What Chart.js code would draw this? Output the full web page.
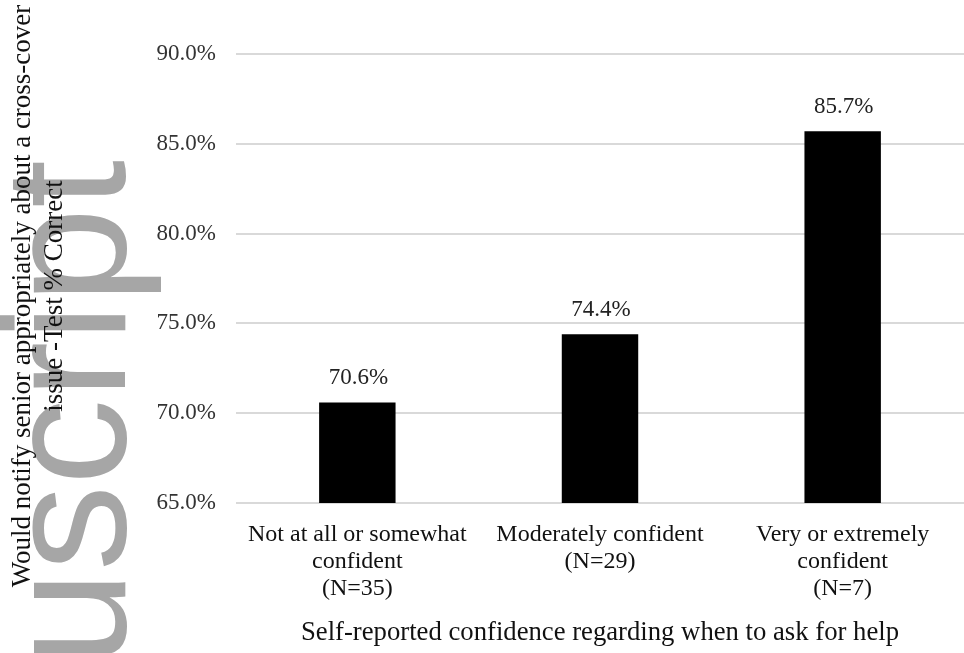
<!DOCTYPE html>
<html>
<head>
<meta charset="utf-8">
<script src="https://cdn.jsdelivr.net/npm/chart.js@4"></script>
<style>
  html, body { margin: 0; padding: 0; background: #fff; overflow: hidden; }
  canvas { display: block; }
</style>
</head>
<body>
<canvas id="confChart" width="964" height="653"></canvas>
<script>
const categories = [
  ['Not at all or somewhat', 'confident', '(N=35)'],
  ['Moderately confident', '(N=29)'],
  ['Very or extremely', 'confident', '(N=7)'],
];
const pctCorrect = [70.6, 74.4, 85.7];
const yTitleLines = ['Would notify senior appropriately about a cross-cover', 'issue -Test % Correct'];
const xTitle = 'Self-reported confidence regarding when to ask for help';
const watermark = 'Manuscript';

const SERIF = "'Liberation Serif', 'Times New Roman', serif";

// grey "Manuscript" stamp behind everything
const watermarkPlugin = {
  id: 'watermark',
  beforeDraw(chart) {
    const ctx = chart.ctx;
    ctx.save();
    ctx.translate(125, 160);
    ctx.rotate(-Math.PI / 2);
    ctx.font = "172px 'Liberation Sans', Arial, sans-serif";
    ctx.fillStyle = '#a6a6a6';
    ctx.textAlign = 'right';
    ctx.textBaseline = 'alphabetic';
    ctx.fillText(watermark, 0, 0);
    ctx.restore();
  }
};

// two-line rotated y title, placed by hand
const yTitlePlugin = {
  id: 'yTitle',
  afterDraw(chart) {
    const ctx = chart.ctx;
    ctx.save();
    ctx.font = '27px ' + SERIF;
    ctx.fillStyle = '#111';
    ctx.textAlign = 'center';
    ctx.textBaseline = 'middle';
    const xs = [23, 55];
    yTitleLines.forEach((line, i) => {
      ctx.save();
      ctx.translate(xs[i], 296);
      ctx.rotate(-Math.PI / 2);
      ctx.fillText(line, 0, 0);
      ctx.restore();
    });
    ctx.restore();
  }
};

const valueLabels = {
  id: 'valueLabels',
  afterDatasetsDraw(chart) {
    const ctx = chart.ctx;
    const meta = chart.getDatasetMeta(0);
    ctx.save();
    ctx.font = '23px ' + SERIF;
    ctx.fillStyle = '#222';
    ctx.textAlign = 'center';
    ctx.textBaseline = 'middle';
    meta.data.forEach((bar, i) => {
      ctx.fillText(pctCorrect[i].toFixed(1) + '%', bar.x + 1, bar.y - 24);
    });
    ctx.restore();
  }
};

new Chart(document.getElementById('confChart'), {
  type: 'bar',
  data: {
    labels: categories,
    datasets: [{
      data: pctCorrect,
      backgroundColor: '#000',
      borderWidth: 0,
      categoryPercentage: 1,
      barPercentage: 0.315,
    }],
  },
  options: {
    responsive: false,
    animation: false,
    layout: { padding: { left: 0, right: 0, top: 54, bottom: 0 } },
    plugins: { legend: { display: false }, tooltip: { enabled: false } },
    scales: {
      x: {
        grid: { display: false },
        border: { display: false },
        ticks: {
          color: '#111',
          font: { family: SERIF, size: 24, lineHeight: 1.125 },
          padding: 10,
          maxRotation: 0,
          autoSkip: false,
        },
        title: {
          display: true,
          text: xTitle,
          color: '#111',
          font: { family: SERIF, size: 26.7, lineHeight: 1.2 },
          padding: { top: 0, bottom: 4 },
        },
        afterFit(scale) { scale.height = 150; },
      },
      y: {
        min: 65,
        max: 90,
        border: { display: false },
        grid: { color: '#d9d9d9', lineWidth: 2, drawTicks: false },
        ticks: {
          stepSize: 5,
          color: '#333',
          padding: 20,
          font: { family: SERIF, size: 23 },
          callback: v => v.toFixed(1) + '%',
        },
        afterFit(scale) { scale.width = 236; },
      },
    },
  },
  plugins: [watermarkPlugin, yTitlePlugin, valueLabels],
});
</script>
</body>
</html>
